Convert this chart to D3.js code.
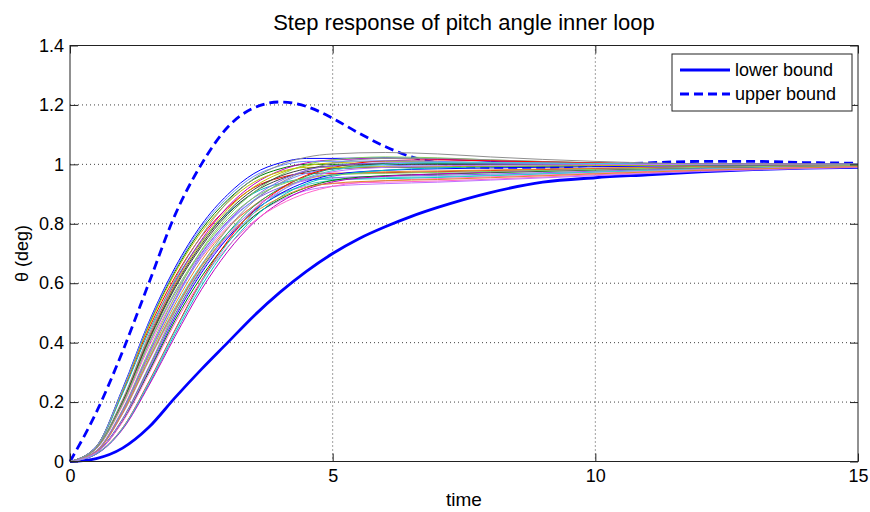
<!DOCTYPE html>
<html>
<head>
<meta charset="utf-8">
<script src="https://cdn.jsdelivr.net/npm/d3@7"></script>
<style>
  body { margin: 0; background: #fff; }
  text { font-family: "Liberation Sans", Arial, Helvetica, sans-serif; }
</style>
</head>
<body>
<div id="chart"></div>
<script>
// tick values
var xTicks = [0, 5, 10, 15];
var yTicks = [0, 0.2, 0.4, 0.6, 0.8, 1, 1.2, 1.4];

// bounds
var boundTimes = [0, 0.5, 1, 1.5, 2, 2.5, 3, 3.5, 4, 4.5, 5, 5.5, 6, 6.5, 7, 8, 9, 10, 11, 12, 13, 14, 15];
var lowerBound = [0, 0.01, 0.045, 0.115, 0.215, 0.31, 0.40, 0.49, 0.57, 0.64, 0.70, 0.75, 0.79, 0.825, 0.855, 0.905, 0.94, 0.955, 0.965, 0.975, 0.982, 0.987, 0.99];
var upperBound = [0, 0.165, 0.37, 0.60, 0.83, 1.0, 1.125, 1.19, 1.21, 1.195, 1.155, 1.105, 1.06, 1.025, 1.005, 0.99, 0.99, 0.997, 1.005, 1.01, 1.01, 1.006, 1.004];

// simulated runs
var runTimes = [0, 0.5, 1, 1.5, 2, 2.5, 3, 3.5, 4, 4.5, 5, 6, 7, 8, 10, 12, 15];
var runs = [
  [0,.051,.245,.469,.653,.796,.898,.969,1.005,1.02,1.02,1.022,1.018,1.01,1.002,1.0,1.0],
  [0,.05,.24,.46,.64,.78,.88,.95,.985,1.0,1.0,1.003,1.002,1.0,.999,.999,1.0],
  [0,.049,.233,.446,.621,.757,.854,.922,.955,.97,.97,.972,.975,.979,.986,.992,.997],
  [0,.048,.228,.437,.608,.741,.836,.903,.936,.95,.95,.952,.956,.962,.974,.984,.993],
  [0,.046,.204,.418,.602,.745,.857,.933,.979,1.005,1.015,1.02,1.017,1.012,1.004,1.0,1.0],
  [0,.045,.202,.414,.596,.737,.848,.924,.97,.995,1.005,1.01,1.009,1.006,1.002,1.0,1.0],
  [0,.045,.198,.406,.584,.723,.832,.906,.95,.975,.985,.99,.991,.992,.995,.997,.999],
  [0,.043,.192,.394,.566,.701,.806,.878,.922,.946,.955,.96,.963,.967,.977,.986,.994],
  [0,.042,.188,.385,.555,.686,.79,.86,.902,.926,.935,.94,.944,.95,.965,.978,.99],
  [0,.036,.175,.371,.556,.711,.824,.906,.963,.999,1.015,1.025,1.022,1.015,1.005,1.0,1.0],
  [0,.035,.17,.36,.54,.69,.80,.88,.935,.97,.985,.995,.998,.999,1.0,1.0,1.0],
  [0,.034,.167,.353,.529,.676,.784,.862,.916,.951,.965,.975,.978,.981,.987,.993,.998],
  [0,.034,.163,.346,.518,.662,.768,.845,.898,.931,.946,.955,.958,.963,.974,.984,.993],
  [0,.033,.16,.338,.508,.649,.752,.827,.879,.912,.926,.935,.94,.947,.962,.976,.99],
  [0,.031,.144,.319,.505,.659,.783,.876,.937,.979,1.004,1.02,1.02,1.015,1.005,1.0,1.0],
  [0,.03,.141,.313,.495,.646,.768,.859,.919,.96,.985,1.0,1.003,1.003,1.001,1.0,1.0],
  [0,.03,.139,.307,.485,.634,.752,.842,.901,.941,.965,.98,.985,.988,.992,.996,.999],
  [0,.029,.136,.301,.475,.621,.737,.825,.883,.922,.946,.962,.967,.972,.981,.989,.996],
  [0,.026,.113,.268,.443,.608,.742,.845,.917,.963,.989,1.012,1.015,1.012,1.005,1.001,1.0],
  [0,.025,.11,.26,.43,.59,.72,.82,.89,.935,.96,.98,.988,.992,.996,.998,1.0],
  [0,.025,.108,.255,.421,.578,.706,.804,.872,.916,.941,.96,.968,.974,.983,.99,.997],
  [0,.05,.238,.455,.634,.772,.871,.94,.975,.99,.99,.992,.993,.994,.996,.998,.999],
  [0,.045,.2,.41,.59,.73,.84,.915,.96,.985,.995,1.0,1.0,1.0,1.0,1.0,1.0],
  [0,.035,.172,.364,.545,.697,.808,.889,.944,.98,.995,1.005,1.006,1.004,1.001,1.0,1.0],
  [0,.029,.133,.295,.466,.608,.722,.808,.865,.903,.926,.945,.952,.958,.97,.982,.993],
  [0,.044,.194,.398,.572,.708,.815,.888,.931,.955,.965,.97,.973,.976,.983,.99,.996],
  [0,.05,.242,.465,.646,.788,.889,.96,.995,1.01,1.01,1.012,1.01,1.006,1.002,1.0,1.0],
  [0,.033,.162,.342,.513,.656,.76,.836,.888,.922,.936,.945,.949,.955,.968,.98,.992],
  [0,.026,.112,.265,.439,.602,.734,.836,.908,.954,.979,1.0,1.006,1.006,1.003,1.0,1.0],
  [0,.03,.14,.31,.49,.64,.76,.85,.91,.95,.975,.99,.995,.997,.999,1.0,1.0],
  [0,.047,.208,.426,.614,.759,.874,.952,.998,1.024,1.035,1.04,1.035,1.025,1.01,1.002,1.0]
];

var runColors = ["#0000ff", "#008000", "#ff0000", "#00bfbf", "#bf00bf", "#bfbf00", "#404040",
  "#8a5cf0", "#ff66cc", "#7fcf5f", "#6f8fff", "#e08a2a", "#40d0d0", "#c070ff", "#909090", "#20a060"];

var legendLabels = ["lower bound", "upper bound"];

// dimensions
var margin = {top: 45.5, right: 12, bottom: 50.5, left: 70},
    width = 870 - margin.left - margin.right,
    height = 512 - margin.top - margin.bottom;

var svg = d3.select("#chart")
  .append("svg")
    .attr("width", 870)
    .attr("height", 512);

var g = svg.append("g")
    .attr("transform", "translate(" + margin.left + "," + margin.top + ")");

var x = d3.scaleLinear().domain([0, 15]).range([0, width]);
var y = d3.scaleLinear().domain([0, 1.4]).range([height, 0]);

// grid
g.selectAll(".vgrid")
  .data(xTicks.slice(1, -1))
  .enter().append("line")
    .attr("x1", function(d) { return x(d); })
    .attr("x2", function(d) { return x(d); })
    .attr("y1", 0).attr("y2", height)
    .attr("stroke", "#444")
    .attr("stroke-width", 1)
    .attr("stroke-dasharray", "1,3");

g.selectAll(".hgrid")
  .data(yTicks.slice(1, -1))
  .enter().append("line")
    .attr("x1", 0).attr("x2", width)
    .attr("y1", function(d) { return y(d); })
    .attr("y2", function(d) { return y(d); })
    .attr("stroke", "#444")
    .attr("stroke-width", 1)
    .attr("stroke-dasharray", "1,3");

// bounds (plotted first, so runs sit on top)
var boundLine = d3.line()
  .curve(d3.curveMonotoneX)
  .x(function(d, i) { return x(boundTimes[i]); })
  .y(function(d) { return y(d); });

g.append("path")
  .datum(lowerBound)
  .attr("fill", "none")
  .attr("stroke", "#0000ff")
  .attr("stroke-width", 2.8)
  .attr("d", boundLine);

g.append("path")
  .datum(upperBound)
  .attr("fill", "none")
  .attr("stroke", "#0000ff")
  .attr("stroke-width", 2.8)
  .attr("stroke-dasharray", "9,5")
  .attr("d", boundLine);

var runLine = d3.line()
  .curve(d3.curveMonotoneX)
  .x(function(d, i) { return x(runTimes[i]); })
  .y(function(d) { return y(d); });

g.selectAll(".run")
  .data(runs)
  .enter().append("path")
    .attr("class", "run")
    .attr("fill", "none")
    .attr("stroke", function(d, i) { return runColors[i % runColors.length]; })
    .attr("stroke-width", 1)
    .attr("d", runLine);

// axes, ticks pointing inward
var xAxis = g.append("g")
  .attr("transform", "translate(0," + height + ")")
  .call(d3.axisBottom(x).tickValues(xTicks).tickFormat(d3.format("d")).tickSizeInner(-8).tickSizeOuter(0).tickPadding(8));
var yAxis = g.append("g")
  .call(d3.axisLeft(y).tickValues(yTicks).tickFormat(function(d) { return d === 0 || d === 1 ? d : d.toFixed(1); })
    .tickSizeInner(-8).tickSizeOuter(0).tickPadding(6));
// mirrored ticks on top and right
g.append("g")
  .call(d3.axisTop(x).tickValues(xTicks).tickSizeInner(-8).tickSizeOuter(0).tickFormat(""));
g.append("g")
  .attr("transform", "translate(" + width + ",0)")
  .call(d3.axisRight(y).tickValues(yTicks).tickSizeInner(-8).tickSizeOuter(0).tickFormat(""));

g.selectAll(".domain").remove();
g.selectAll(".tick line").attr("stroke", "#222");
xAxis.selectAll("text").style("font-size", "18px").attr("fill", "#000");
yAxis.selectAll("text").style("font-size", "18px").attr("fill", "#000");

g.append("rect")
  .attr("x", 0).attr("y", 0)
  .attr("width", width).attr("height", height)
  .attr("fill", "none")
  .attr("stroke", "#222")
  .attr("stroke-width", 1);

// labels
svg.append("text")
  .text("Step response of pitch angle inner loop")
  .attr("x", margin.left + width / 2)
  .attr("y", 30)
  .style("text-anchor", "middle")
  .style("font-size", "22px");

svg.append("text")
  .text("time")
  .attr("x", margin.left + width / 2)
  .attr("y", 506)
  .style("text-anchor", "middle")
  .style("font-size", "19px");

svg.append("text")
  .text("θ (deg)")
  .attr("transform", "translate(28," + (margin.top + height / 2) + ") rotate(-90)")
  .style("text-anchor", "middle")
  .style("font-size", "18px");

// legend
var legend = svg.append("g").attr("transform", "translate(672,54)");
legend.append("rect")
  .attr("width", 180).attr("height", 57)
  .attr("fill", "#fff")
  .attr("stroke", "#222")
  .attr("stroke-width", 1);

legendLabels.forEach(function(label, i) {
  var ly = 16 + i * 24;
  legend.append("line")
    .attr("x1", 8).attr("x2", 58)
    .attr("y1", ly).attr("y2", ly)
    .attr("stroke", "#0000ff")
    .attr("stroke-width", 2.8)
    .attr("stroke-dasharray", i === 1 ? "9,5" : null);
  legend.append("text")
    .text(label)
    .attr("x", 63)
    .attr("y", ly + 6)
    .style("font-size", "18px");
});
</script>
</body>
</html>
